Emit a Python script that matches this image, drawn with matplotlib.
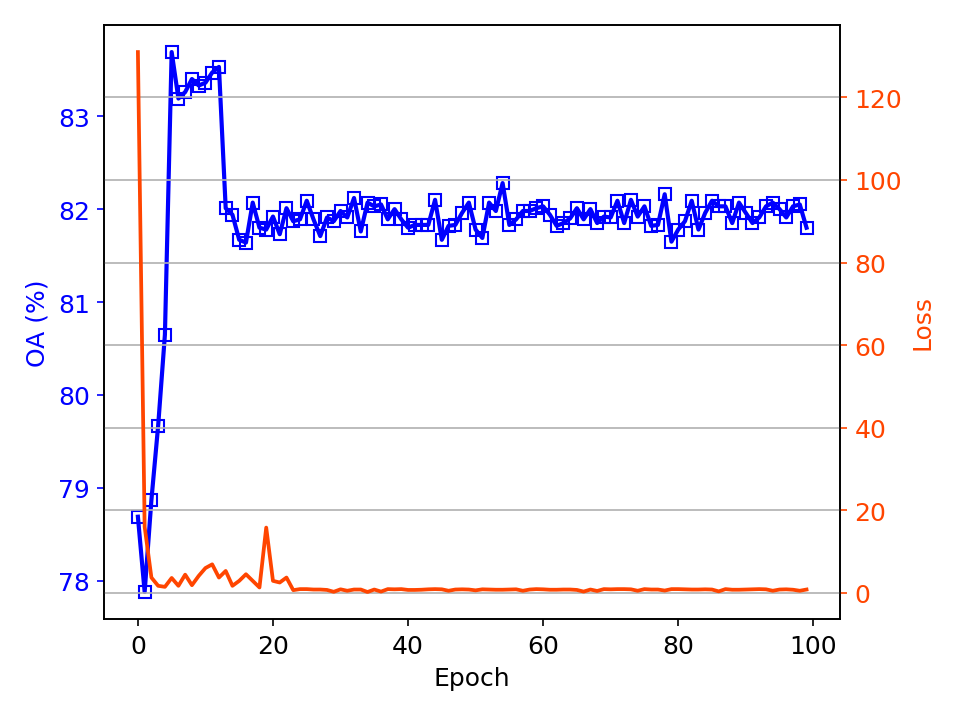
import matplotlib
matplotlib.use("Agg")
import matplotlib.pyplot as plt

plt.rcParams['font.size'] = 12

# OA (%) per epoch
oa = [78.69, 77.88, 78.87, 79.67, 80.65, 83.69, 83.19, 83.26, 83.40, 83.33,
      83.36, 83.47, 83.53, 82.01, 81.94, 81.67, 81.64, 82.07, 81.80, 81.78,
      81.92, 81.73, 82.01, 81.87, 81.89, 82.09, 81.89, 81.71, 81.91, 81.87,
      81.98, 81.91, 82.12, 81.76, 82.07, 82.03, 82.05, 81.89, 82.00, 81.89,
      81.80, 81.83, 81.83, 81.83, 82.10, 81.67, 81.82, 81.83, 81.96, 82.07,
      81.78, 81.69, 82.07, 81.98, 82.28, 81.83, 81.89, 81.98, 81.98, 82.01,
      82.03, 81.94, 81.82, 81.85, 81.90, 82.01, 81.89, 82.00, 81.85, 81.92,
      81.91, 82.09, 81.85, 82.10, 81.92, 82.03, 81.82, 81.83, 82.16, 81.65,
      81.78, 81.87, 82.09, 81.78, 81.96, 82.09, 82.03, 82.03, 81.85, 82.07,
      81.96, 81.85, 81.91, 82.03, 82.07, 82.00, 81.91, 82.03, 82.05, 81.80]

# training loss per epoch
loss = [131.0, 16.0, 3.7, 1.7, 1.45, 3.6, 1.7, 4.4, 1.85, 4.1,
        6.0, 6.9, 3.7, 5.3, 1.7, 2.9, 4.5, 2.9, 1.3, 15.8,
        2.9, 2.5, 3.7, 0.65, 0.9, 0.9, 0.8, 0.8, 0.7, 0.25,
        0.85, 0.5, 0.8, 0.8, 0.2, 0.8, 0.3, 0.9, 0.85, 0.9,
        0.7, 0.7, 0.75, 0.85, 0.9, 0.85, 0.5, 0.8, 0.85, 0.8,
        0.6, 0.85, 0.8, 0.75, 0.75, 0.8, 0.85, 0.5, 0.8, 0.9,
        0.85, 0.75, 0.75, 0.8, 0.8, 0.7, 0.3, 0.8, 0.45, 0.9,
        0.85, 0.9, 0.9, 0.85, 0.5, 0.9, 0.8, 0.8, 0.55, 0.9,
        0.9, 0.85, 0.8, 0.8, 0.85, 0.8, 0.35, 0.9, 0.75, 0.75,
        0.8, 0.85, 0.9, 0.85, 0.5, 0.8, 0.85, 0.75, 0.5, 0.8]

epochs = list(range(len(oa)))

fig, ax1 = plt.subplots(figsize=(6.407, 4.793), dpi=150)
fig.subplots_adjust(left=0.1087, right=0.874, top=0.9638, bottom=0.1377)

ax1.plot(epochs, oa, color='blue', marker='s', markerfacecolor='none',
         markersize=6, linewidth=2)
ax1.set_xlabel('Epoch')
ax1.set_ylabel('OA (%)', color='blue')
ax1.tick_params(axis='y', colors='blue')

ax2 = ax1.twinx()
ax2.plot(epochs, loss, color='orangered', linewidth=1.8)
ax2.set_ylabel('Loss', color='orangered')
ax2.tick_params(axis='y', colors='orangered')
ax2.grid(True)

fig.savefig('out.png', dpi=150)
